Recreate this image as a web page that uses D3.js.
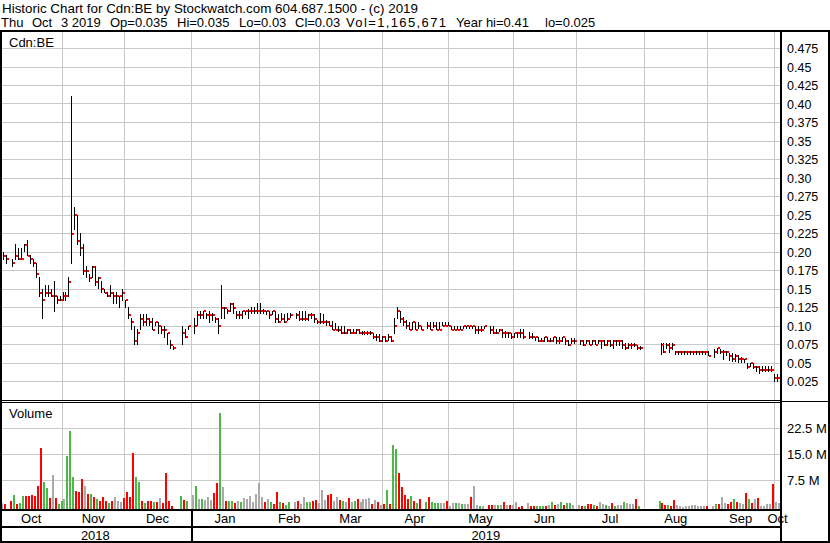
<!DOCTYPE html>
<html><head><meta charset="utf-8">
<script src="https://cdn.jsdelivr.net/npm/d3@7/dist/d3.min.js"></script>
<style>
html,body{margin:0;padding:0;background:#fff;}
svg{display:block;}
text{font-family:Arial,"Liberation Sans",sans-serif;fill:#000;}
</style></head><body>
<svg id="c" width="830" height="543"></svg>
<script>
// ---- data: one entry per trading-day slot (null = no trade) ----
const priceHigh = [
.200,.195,null,.190,.210,.205,.205,.210,.215,.195,
.190,.185,.165,.150,.155,.155,.150,.160,.140,.140,
.145,.145,.165,.410,.260,.250,.225,.210,.180,.170,
.180,.180,.165,.160,.150,.145,.155,.145,.145,.140,
.150,.135,.125,.110,.100,.095,.115,.115,.115,.110,
.110,.105,.105,.100,.100,.090,.080,.072,null,null,
.100,.095,.100,null,.110,.120,.120,.120,.117,.120,
.117,.112,.110,.155,.125,.122,.130,.130,.120,.120,
.120,.120,.122,.125,.125,.130,.130,.122,.120,.120,
.120,.120,.115,.117,.115,.117,.117,null,.117,.120,
.120,.120,.115,.117,.115,.108,.117,.115,.108,.106,
.106,.104,.100,.100,.100,.095,.095,.095,.095,.095,
.092,.092,.092,.092,.090,.088,.088,.086,.086,.088,
.086,.110,.125,.120,.112,.108,.105,.105,.105,.105,
.100,null,.105,.105,.105,.105,.105,.105,.105,.105,
.100,.100,.100,.100,.100,.100,.100,.100,.100,.100,
.100,.100,null,.100,.100,.095,.095,.095,.092,.091,
.090,.090,.091,.095,.095,null,.091,.090,.085,.085,
.083,.085,.085,.083,.085,.085,.085,.085,.083,.080,
.083,.083,null,.080,.080,.080,.080,.080,.080,.080,
.080,.080,.080,.080,.080,.080,.080,.080,.077,.077,
.077,.077,.073,.072,null,null,null,null,null,null,
.077,.076,.076,.076,.076,.066,.066,.066,.066,.066,
.066,.066,.066,.066,.066,.066,.065,null,.068,.070,
.068,.067,.065,.063,.063,.061,.060,.058,.055,.050,
.050,.050,.045,.045,.045,.045,.045,.045,.035,.035,
.035];
const priceLow = [
.190,.185,null,.180,.190,.190,.190,.200,.195,.185,
.180,.165,.140,.110,.140,.140,.140,.120,.130,.135,
.135,.135,.140,.185,.230,.210,.195,.170,.165,.160,
.165,.155,.150,.145,.145,.140,.140,.130,.130,.125,
.135,.125,.110,.095,.075,.075,.095,.100,.100,.100,
.095,.100,.090,.090,.085,.075,.070,.068,null,null,
.075,.085,.095,null,.090,.100,.110,.110,.110,.105,
.108,.105,.090,.110,.110,.117,.120,.117,.110,.110,
.110,.115,.110,.117,.117,.117,.117,.117,.115,.110,
.115,.105,.105,.108,.105,.108,.112,null,.110,.108,
.108,.108,.108,.110,.105,.104,.104,.104,.100,.100,
.095,.095,.092,.090,.090,.090,.090,.090,.090,.090,
.088,.088,.088,.088,.083,.081,.079,.079,.079,.080,
.079,.090,.110,.105,.100,.097,.095,.095,.095,.097,
.095,null,.097,.095,.098,.095,.095,.100,.100,.100,
.095,.095,.095,.095,.097,.097,.097,.097,.090,.090,
.092,.097,null,.090,.090,.090,.092,.085,.085,.085,
.083,.085,.085,.085,.083,null,.083,.083,.081,.079,
.079,.079,.079,.079,.079,.077,.077,.079,.075,.074,
.077,.077,null,.075,.074,.077,.075,.075,.075,.077,
.070,.074,.074,.072,.070,.074,.074,.070,.068,.070,
.070,.072,.068,.068,null,null,null,null,null,null,
.061,.064,.069,.064,.068,.061,.061,.061,.061,.061,
.061,.061,.061,.061,.061,.061,.060,null,.057,.063,
.063,.055,.060,.054,.052,.052,.050,.050,.050,.043,
.045,.043,.038,.036,.038,.038,.038,.038,.025,.025,
.030];
const priceClose = [
.195,.190,null,.185,.195,.190,.190,.210,.195,.190,
.185,.170,.145,.135,.145,.145,.140,.140,.135,.135,
.140,.140,.160,.225,.250,.215,.205,.175,.175,.165,
.180,.160,.165,.150,.145,.140,.145,.140,.140,.140,
.145,.135,.115,.105,.080,.090,.110,.105,.110,.105,
.095,.105,.100,.095,.095,.090,.075,.070,null,null,
.090,.085,.100,null,.100,.115,.115,.120,.115,.115,
.115,.110,.100,.125,.125,.120,.130,.125,.115,.115,
.120,.120,.120,.120,.120,.120,.120,.120,.120,.115,
.120,.110,.105,.110,.105,.110,.115,null,.115,.110,
.110,.110,.115,.115,.110,.105,.105,.105,.105,.100,
.095,.095,.095,.090,.090,.095,.090,.090,.095,.090,
.090,.090,.090,.090,.085,.085,.080,.085,.080,.085,
.080,.100,.120,.110,.105,.100,.095,.105,.095,.100,
.095,null,.100,.095,.100,.095,.095,.100,.100,.100,
.095,.095,.095,.095,.100,.100,.100,.100,.095,.095,
.095,.100,null,.095,.090,.090,.095,.090,.090,.090,
.085,.090,.090,.090,.085,null,.085,.085,.085,.080,
.080,.085,.080,.080,.085,.080,.080,.085,.080,.075,
.080,.080,null,.080,.075,.080,.075,.080,.075,.080,
.080,.075,.080,.075,.080,.080,.080,.075,.070,.075,
.075,.075,.070,.070,null,null,null,null,null,null,
.075,.065,.075,.070,.075,.065,.065,.065,.065,.065,
.065,.065,.065,.065,.065,.065,.060,null,.065,.070,
.065,.065,.065,.060,.055,.060,.055,.055,.055,.045,
.050,.045,.045,.040,.040,.040,.040,.040,.030,.030,
.030];
// volume in millions of shares
const volume = [
1.14,0.85,null,1.61,3.41,0.85,1.14,3.12,3.12,3.12,
3.41,3.22,5.96,16.8,7.28,5.39,2.65,9.08,2.55,0.85,
1.61,2.27,14.5,21.8,8.51,4.54,4.26,7.95,5.96,3.69,
3.69,2.84,2.27,1.70,2.84,1.70,1.04,1.70,2.84,1.70,
1.42,2.55,4.26,2.84,15.3,8.51,7.09,1.70,1.14,1.70,
1.70,1.42,1.42,2.55,1.14,9.65,1.70,0.30,null,null,
3.12,1.99,1.70,null,3.41,5.96,2.27,2.27,1.99,2.84,
1.99,3.97,6.81,26.96,5.68,1.70,1.70,1.70,1.14,1.70,
1.42,2.55,2.27,3.12,1.42,3.69,6.81,2.84,1.42,2.27,
1.42,0.85,4.26,1.42,1.14,0.57,1.42,null,1.42,1.70,
0.85,2.84,1.42,1.42,1.70,1.99,1.14,4.82,1.99,3.41,
3.69,1.70,2.84,1.99,1.70,1.42,2.55,1.42,1.70,2.27,
1.42,2.27,2.27,2.55,0.85,1.99,1.42,0.57,0.85,4.82,
0.85,17.7,16.5,9.65,5.68,3.41,2.27,3.12,1.70,1.14,
2.27,null,1.42,2.84,1.42,1.14,1.14,1.14,1.14,1.70,
0.28,1.14,1.14,1.14,0.85,0.85,0.85,2.84,5.96,0.57,
0.28,0.28,null,0.57,0.57,0.57,0.57,0.57,1.42,0.57,
0.57,0.57,1.42,0.10,0.28,null,1.14,0.28,0.28,0.28,
0.28,0.28,0.28,0.57,1.42,0.57,0.85,1.42,0.57,1.14,
1.14,0.57,null,0.57,0.28,0.28,0.85,0.85,0.57,0.28,
1.42,0.85,0.57,0.28,1.14,0.28,0.57,0.57,1.42,1.14,
0.85,0.85,2.27,0.28,null,null,null,null,null,null,
1.70,1.14,0.57,0.57,0.28,1.99,0.57,0.28,0.10,0.28,
0.28,0.57,0.57,0.28,0.28,0.28,0.28,null,0.28,0.85,
0.85,2.84,1.14,0.85,1.42,2.27,1.42,1.14,0.85,3.97,
2.27,1.14,2.27,2.55,0.28,0.28,0.85,0.85,6.53,1.42,
1.14];
// day direction vs previous close: u = up, d = down, n = unchanged, - = none
const volDir = (
"n d - d u d u u d d " +
"d d d d u u d n d u " +
"u n u u u d d d n d " +
"u d u d d d u d n n " +
"n d d d d u u d u d " +
"d u d n d d d d - - " +
"u d u - n u n u n n " +
"n d d u n d u u d n " +
"u n n n n n n n d n " +
"u d d u d u u - n d " +
"n n u u d d n n n d " +
"d n n d u n d n u d " +
"n n n n d n d n d u " +
"d u u d d d d u d u " +
"d - u d u u u n n d " +
"n n u n u n n d n n " +
"u n - d d n u n d n " +
"d n n d d - n d d u " +
"u u d n u d n u d u " +
"u n - n d u d d u d " +
"n n u n d u n n u n " +
"n n d u - - - - - - " +
"u d d u d d n n n n " +
"n n n n n n d - n u " +
"d n n d d u d n n d " +
"u d n d n n n n d n " +
"n").trim().split(/\s+/);

const monthLabels = ["Oct","Nov","Dec","Jan","Feb","Mar","Apr","May","Jun","Jul","Aug","Sep","Oct"];
// month boundaries on the trading-day axis (slot index)
const monthStarts = [19.93,40.67,62.88,85.82,105.89,126.76,148.83,170.77,191.64,214.58,235.65,257.96];
const yearLabels = ["2018","2019"];
const yearStart = 62.88;
const priceTicks = [0.025,0.05,0.075,0.10,0.125,0.15,0.175,0.20,0.225,0.25,0.275,0.30,0.325,0.35,0.375,0.40,0.425,0.45,0.475];
const priceTickLabels = ["0.025","0.05","0.075","0.10","0.125","0.15","0.175","0.20","0.225","0.25","0.275","0.30","0.325","0.35","0.375","0.40","0.425","0.45","0.475"];
const volTicks = [7.5,15,22.5];
const volTickLabels = ["7.5 M","15.0 M","22.5 M"];
const headerLine1 = "Historic Chart for Cdn:BE by Stockwatch.com 604.687.1500 - (c) 2019";
const headerLine2 = ["Thu","Oct","3 2019","Op=0.035","Hi=0.035","Lo=0.03","Cl=0.03","Vol=1,165,671","Year hi=0.41","lo=0.025"];

// ---- layout ----
const W = 830, H = 543;
const plotL = 2, plotR = 780, axR = 828;
const pTop = 32, pBot = 400, vTop = 403, vBot = 509;
const GRID = "#c8c8c8", RED = "#ff0000", GREEN = "#4cb848", GRAY = "#aaaaaa";

const svg = d3.select("#c");
svg.append("rect").attr("width", W).attr("height", H).attr("fill", "#fff");

const N = priceClose.length;
const x = d3.scaleLinear().domain([0, 260]).range([2.7, 780.1]);
const yP = d3.scaleLinear().domain([0, 0.5]).range([400, 30]);
const yV = d3.scaleLinear().domain([0, 30]).range([507, 402]);
const px = i => Math.round(x(i));

const days = d3.range(N).map(i => ({i, h: priceHigh[i], l: priceLow[i], c: priceClose[i], v: volume[i], d: volDir[i]}));

// clip paths
const defs = svg.append("defs");
defs.append("clipPath").attr("id", "cp").append("rect").attr("x", plotL).attr("y", pTop).attr("width", plotR - plotL).attr("height", pBot - pTop);
defs.append("clipPath").attr("id", "cv").append("rect").attr("x", plotL).attr("y", vTop).attr("width", plotR - plotL).attr("height", vBot - vTop);

const crisp = g => g.attr("shape-rendering", "crispEdges");

// price grid
const gP = svg.append("g").call(crisp);
gP.selectAll("rect.h").data(priceTicks).join("rect").attr("class", "h")
  .attr("x", plotL).attr("width", plotR - plotL)
  .attr("y", d => Math.floor(yP(d))).attr("height", 1).attr("fill", GRID);
gP.selectAll("rect.v").data(monthStarts).join("rect").attr("class", "v")
  .attr("x", d => Math.round(x(d))).attr("width", 1)
  .attr("y", pTop).attr("height", pBot - pTop).attr("fill", GRID);

// volume grid
const gV = svg.append("g").call(crisp);
gV.selectAll("rect.h").data(volTicks).join("rect").attr("class", "h")
  .attr("x", plotL).attr("width", plotR - plotL)
  .attr("y", d => Math.floor(yV(d))).attr("height", 1).attr("fill", GRID);
gV.selectAll("rect.v").data(monthStarts).join("rect").attr("class", "v")
  .attr("x", d => Math.round(x(d))).attr("width", 1)
  .attr("y", vTop).attr("height", vBot - vTop).attr("fill", GRID);

// price bars
const bars = svg.append("g").attr("clip-path", "url(#cp)").call(crisp);
const valid = days.filter(d => d.c != null);
bars.selectAll("rect.hl").data(valid).join("rect").attr("class", "hl")
  .attr("x", d => px(d.i)).attr("width", 1)
  .attr("y", d => Math.floor(yP(d.h)))
  .attr("height", d => Math.max(1, Math.ceil(yP(d.l)) - Math.floor(yP(d.h))))
  .attr("fill", "#000");
bars.selectAll("rect.cl").data(valid).join("rect").attr("class", "cl")
  .attr("x", d => px(d.i) + 1).attr("width", 2)
  .attr("y", d => Math.round(yP(d.c)) - 1).attr("height", 2)
  .attr("fill", RED);

// volume bars
const vb = svg.append("g").attr("clip-path", "url(#cv)").call(crisp);
vb.selectAll("rect").data(days.filter(d => d.v != null)).join("rect")
  .attr("x", d => px(d.i) - 2).attr("width", 2)
  .attr("y", d => Math.round(yV(d.v)))
  .attr("height", d => vBot - Math.round(yV(d.v)))
  .attr("fill", d => d.d === "u" ? GREEN : d.d === "d" ? RED : GRAY);

// frame lines
const fr = svg.append("g").call(crisp);
const line = (x0, y0, w, h) => fr.append("rect").attr("x", x0).attr("y", y0).attr("width", w).attr("height", h).attr("fill", "#000");
line(0, 30, W, 2);           // top of chart
line(0, 30, 2, H - 30);      // left
line(828, 30, 2, H - 30);    // right
line(0, 541, W, 2);          // bottom
line(780, 30, 2, H - 30);    // axis separator
line(0, 400, 780, 1);        // price bottom
line(0, 402, 780, 1);        // volume top
line(782, 401, 46, 1);
line(0, 509, 780, 2);        // volume bottom
line(0, 526, 780, 2);        // month row bottom
line(Math.round(x(yearStart)), 509, 2, 32); // year separator

// header
svg.append("text").attr("x", 2).attr("y", 12.5).attr("font-size", 13)
  .attr("textLength", 416).attr("lengthAdjust", "spacingAndGlyphs").text(headerLine1);
const h2x = [1, 32, 61, 110, 177, 239, 295, 346, 456, 545];
const h2w = [null, null, null, null, null, null, null, 100, null, null];
svg.append("g").selectAll("text").data(headerLine2).join("text")
  .attr("x", (d, k) => h2x[k]).attr("y", 26.5).attr("font-size", 13)
  .each(function (d, k) { if (h2w[k]) d3.select(this).attr("textLength", h2w[k]).attr("lengthAdjust", "spacing"); })
  .text(d => d);

// panel labels
svg.append("text").attr("x", 9).attr("y", 47).attr("font-size", 13).text("Cdn:BE");
svg.append("text").attr("x", 9).attr("y", 418).attr("font-size", 13).text("Volume");

// axis labels
svg.append("g").selectAll("text").data(priceTicks).join("text")
  .attr("x", 787).attr("y", d => yP(d) + 4.5).attr("font-size", 12.5)
  .text((d, k) => priceTickLabels[k]);
svg.append("g").selectAll("text").data(volTicks).join("text")
  .attr("x", 787).attr("y", d => yV(d) + 4.5).attr("font-size", 13)
  .text((d, k) => volTickLabels[k]);

// month labels centred in each month span
const bounds = [0, ...monthStarts.map(m => x(m)), 781];
svg.append("g").selectAll("text").data(monthLabels).join("text")
  .attr("x", (d, k) => (bounds[k] + bounds[k + 1]) / 2).attr("y", 523)
  .attr("text-anchor", "middle").attr("font-size", 13).text(d => d);
const yb = [0, x(yearStart), 781];
svg.append("g").selectAll("text").data(yearLabels).join("text")
  .attr("x", (d, k) => (yb[k] + yb[k + 1]) / 2).attr("y", 539.5)
  .attr("text-anchor", "middle").attr("font-size", 13).text(d => d);
</script>
</body></html>
